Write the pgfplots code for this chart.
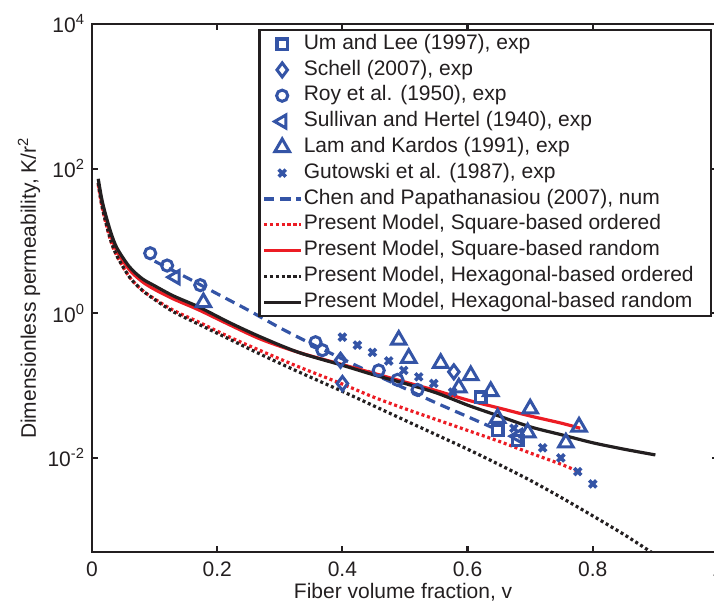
\documentclass[border=0pt]{standalone}
\usepackage{fontspec}
\setmainfont{Liberation Sans}
\usepackage{pgfplots}
\pgfplotsset{compat=1.18}
\definecolor{mblue}{RGB}{52,84,166}
\definecolor{mred}{RGB}{236,28,36}
\definecolor{mblack}{RGB}{35,31,32}
\begin{document}
\begin{tikzpicture}
\begin{axis}[
  scale only axis, width=313pt, height=264pt,
  xmin=0, xmax=1, ymode=log, ymin=5e-4, ymax=1e4,
  xtick={0,0.2,0.4,0.6,0.8,1}, xticklabels={0,0.2,0.4,0.6,0.8,1},
  ytick={1e-2,1,1e2,1e4},
  yticklabels={10\textsuperscript{-2},10\textsuperscript{0},10\textsuperscript{2},10\textsuperscript{4}},
  yminorticks=false, xminorticks=false,
  tick align=inside, major tick length=3pt,
  tick style={line width=1.1pt, mblack},
  axis line style={line width=1.35pt, mblack},
  tick label style={font=\fontsize{10.5}{12}\selectfont, text=mblack},
  xticklabel style={yshift=-1.5pt},
  label style={font=\fontsize{10.5}{12}\selectfont, text=mblack},
  xlabel={Fiber volume fraction, v},
  ylabel={Dimensionless permeability, K/r\textsuperscript{2}},
  xlabel style={at={(axis description cs:0.497,-0.0758)}, anchor=center},
  ylabel style={at={(axis description cs:-0.1006,0.5)}, anchor=center},
  legend image code/.code={\draw[mark repeat=2,mark phase=2,#1] plot coordinates {(0pt,0pt) (9pt,0pt) (18pt,0pt)};},
  legend cell align=left,
  legend style={at={(1,1)}, anchor=north east, xshift=-3pt, yshift=-2.5pt,
    draw=mblack, line width=1.2pt, fill=white, inner xsep=1.5pt, inner ysep=0.5pt,
    font=\fontsize{10.5}{12}\selectfont, row sep=0pt,
    nodes={inner xsep=1pt, inner ysep=1.25pt, text height=7.8pt, text depth=2.6pt, text=mblack}},
]
\coordinate (sw) at (rel axis cs:0,0);
% Um and Lee (1997)
\addplot[only marks, mblue, mark=square, mark size=2.6pt, mark options={line width=1.7pt}]
 coordinates {(0.621,0.0692) (0.648,0.0240) (0.68,0.0174)};
\addlegendentry{Um and Lee (1997), exp}
% Schell (2007)
\addplot[only marks, mblue, mark=diamond, mark size=3.5pt, mark options={line width=1.5pt}]
 coordinates {(0.397,0.224) (0.40,0.107) (0.578,0.155)};
\addlegendentry{Schell (2007), exp}
% Roy et al. (1950)
\addplot[only marks, mblue, mark=o, mark size=2.8pt, mark options={line width=1.5pt}]
 coordinates {(0.093,6.76) (0.12,4.57) (0.173,2.45) (0.357,0.398) (0.368,0.309) (0.458,0.162) (0.488,0.120) (0.52,0.0871)};
\addlegendentry{Roy et al. (1950), exp}
% Sullivan and Hertel (1940)
\addplot[only marks, mblue, mark=triangle, mark size=3.8pt, mark options={line width=1.5pt, rotate=90}]
 coordinates {(0.133,3.16) (0.68,0.0200)};
\addlegendentry{Sullivan and Hertel (1940), exp}
% Lam and Kardos (1991)
\addplot[only marks, mblue, mark=triangle, mark size=4.2pt, mark options={line width=1.5pt}]
 coordinates {(0.178,1.41) (0.49,0.427) (0.506,0.240) (0.557,0.204) (0.586,0.0933) (0.605,0.138) (0.637,0.0832) (0.648,0.0355) (0.70,0.0479) (0.696,0.0224) (0.757,0.0162) (0.778,0.0269)};
\addlegendentry{Lam and Kardos (1991), exp}
% Gutowski et al. (1987)
\addplot[only marks, mblue, mark=x, mark size=2.5pt, mark options={line width=1.8pt}]
 coordinates {(0.40,0.468) (0.424,0.363) (0.448,0.288) (0.474,0.219) (0.498,0.162) (0.522,0.132) (0.546,0.107) (0.576,0.0813) (0.674,0.0257) (0.72,0.0138) (0.749,0.0100) (0.776,0.00646) (0.80,0.00437)};
\addlegendentry{Gutowski et al. (1987), exp}
% Chen and Papathanasiou (2007)
\addplot[mblue, line width=1.6pt, dash pattern=on 5pt off 3pt, smooth]
 coordinates {(0.10,5.25) (0.15,3.16) (0.20,1.86) (0.25,1.10) (0.30,0.631) (0.35,0.380) (0.40,0.234) (0.45,0.145) (0.50,0.0912) (0.55,0.0575) (0.60,0.0372) (0.65,0.0240)};
\addlegendentry{Chen and Papathanasiou (2007), num}
% Square-based ordered
\addplot[mred, line width=1.6pt, dash pattern=on 1.5pt off 1.4pt, smooth]
 coordinates {(0.01,60.3) (0.015,33.0) (0.02,20.9) (0.03,10.0) (0.04,6.17) (0.06,3.16) (0.08,2.09) (0.10,1.58) (0.13,1.10) (0.17,0.759) (0.22,0.468) (0.27,0.302) (0.33,0.182) (0.40,0.105) (0.45,0.0692) (0.50,0.0479) (0.55,0.0339) (0.60,0.0240) (0.65,0.0170) (0.70,0.0117) (0.75,0.00813) (0.78,0.00631)};
\addlegendentry{Present Model, Square-based ordered}
% Square-based random
\addplot[mred, line width=1.6pt, smooth]
 coordinates {(0.01,63.1) (0.015,36.5) (0.02,24.0) (0.03,12.0) (0.04,7.24) (0.06,3.98) (0.08,2.75) (0.10,2.14) (0.13,1.58) (0.17,1.12) (0.22,0.692) (0.27,0.437) (0.33,0.288) (0.40,0.195) (0.45,0.148) (0.50,0.112) (0.55,0.0851) (0.60,0.0631) (0.65,0.0490) (0.70,0.0380) (0.75,0.0302) (0.78,0.0257)};
\addlegendentry{Present Model, Square-based random}
% Hexagonal-based ordered
\addplot[mblack, line width=1.6pt, dash pattern=on 1.5pt off 1.4pt, smooth]
 coordinates {(0.01,63.1) (0.015,34.0) (0.02,21.4) (0.03,10.2) (0.04,6.17) (0.06,3.16) (0.08,2.09) (0.10,1.55) (0.13,1.05) (0.17,0.708) (0.22,0.437) (0.27,0.269) (0.33,0.155) (0.40,0.0832) (0.45,0.0525) (0.50,0.0331) (0.55,0.0209) (0.60,0.0132) (0.65,0.00813) (0.70,0.00490) (0.75,0.00282) (0.80,0.00158) (0.85,0.000871) (0.90,0.000457)};
\addlegendentry{Present Model, Hexagonal-based ordered}
% Hexagonal-based random
\addplot[mblack, line width=1.6pt, smooth]
 coordinates {(0.01,72.4) (0.015,40.5) (0.02,26.3) (0.03,13.2) (0.04,7.94) (0.06,4.37) (0.08,3.02) (0.10,2.40) (0.13,1.74) (0.17,1.23) (0.22,0.741) (0.27,0.468) (0.33,0.288) (0.40,0.191) (0.45,0.141) (0.50,0.107) (0.55,0.0794) (0.60,0.0537) (0.65,0.0380) (0.70,0.0269) (0.75,0.0209) (0.80,0.0162) (0.85,0.0132) (0.90,0.0110)};
\addlegendentry{\makebox[201pt][l]{Present Model, Hexagonal-based random}}
\end{axis}
\pgfresetboundingbox
\useasboundingbox ([shift={(-46pt,-27.5pt)}]sw) rectangle ([shift={(311pt,276pt)}]sw);
\end{tikzpicture}
\end{document}
